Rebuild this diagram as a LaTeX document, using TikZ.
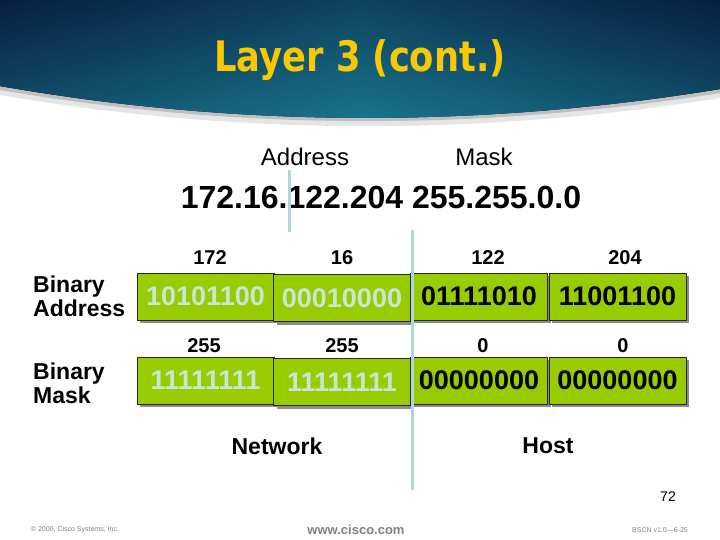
\documentclass[tikz,border=0pt]{standalone}
\usepackage{fontspec}
\setmainfont{Liberation Sans}
\newfontfamily\titlefont[FakeStretch=0.84]{DejaVu Sans}
\usetikzlibrary{shadows}
\definecolor{hdark}{HTML}{0B2A55}
\definecolor{hteal}{HTML}{22A0C0}
\definecolor{ttl}{HTML}{F8C800}
\definecolor{boxg}{HTML}{99CC00}
\definecolor{lite}{HTML}{C6E6D6}
\definecolor{vline}{HTML}{B4D4DC}
\definecolor{foot}{HTML}{808080}
\tikzset{
  binbox/.style={draw=black!85, line width=0.6pt, fill=boxg, minimum width=137pt,
    minimum height=47pt, inner sep=0pt, font=\fontsize{27}{30}\selectfont\bfseries,
    drop shadow={shadow xshift=3pt, shadow yshift=-3pt, fill=black!45, opacity=1}},
  netbox/.style={binbox, text=lite},
  hostbox/.style={binbox, text=black},
  toplabel/.style={font=\fontsize{24}{28}\selectfont},
  numlabel/.style={font=\fontsize{20}{24}\selectfont\bfseries},
  sidelabel/.style={font=\fontsize{23}{24}\selectfont\bfseries, align=left, anchor=west, inner sep=0pt},
  partlabel/.style={font=\fontsize{23}{26}\selectfont\bfseries},
  divider/.style={draw=vline, line width=3pt},
}
\begin{document}
\begin{tikzpicture}[x=1pt,y=-1pt]
\useasboundingbox (0,0) rectangle (720,540);
\fill[white] (0,0) rectangle (720,540);
% header shadow
\fill[black!10] (0,80) -- (720,80) -- (720,98) .. controls (480,136) and (240,136) .. (0,95) -- cycle;
\fill[black!25] (0,80) -- (720,80) -- (720,93) .. controls (480,131) and (240,131) .. (0,90) -- cycle;
% header
\fill[left color=hdark, right color=hdark, middle color=hteal]
  (0,0) -- (720,0) -- (720,89) .. controls (480,128) and (240,128) .. (0,86) -- cycle;
\fill[top color=hdark, bottom color=hteal, fill opacity=0.45]
  (0,0) -- (720,0) -- (720,89) .. controls (480,128) and (240,128) .. (0,86) -- cycle;
% title
\node[text=ttl, font=\titlefont\bfseries\fontsize{42}{46}\selectfont] (title) at (360,60) {Layer 3 (cont.)};
% top labels
\node[toplabel] (addr) at (305,157) {Address};
\node[toplabel] (mask) at (484,157) {Mask};
\node[font=\fontsize{32}{36}\selectfont\bfseries] (ip) at (381,197) {172.16.122.204 255.255.0.0};
% octet decimals
\node[numlabel] (a1) at (210,258) {172};
\node[numlabel] (a2) at (342,258) {16};
\node[numlabel] (a3) at (488,258) {122};
\node[numlabel] (a4) at (625,258) {204};
\node[numlabel] (m1) at (204,346) {255};
\node[numlabel] (m2) at (342,346) {255};
\node[numlabel] (m3) at (483,346) {0};
\node[numlabel] (m4) at (623,346) {0};
% side labels
\node[sidelabel] (binaddr) at (33,296) {Binary\\Address};
\node[sidelabel] (binmask) at (33,383) {Binary\\Mask};
% address boxes
\node[netbox] (ba1) at (205.5,296.5) {10101100};
\node[netbox] (ba2) at (342,298) {00010000};
\node[hostbox] (ba3) at (479,296.5) {01111010};
\node[hostbox] (ba4) at (617.5,296.5) {11001100};
% mask boxes
\node[netbox] (bm1) at (205.5,380.5) {11111111};
\node[netbox] (bm2) at (342,382) {11111111};
\node[hostbox] (bm3) at (479,380.5) {00000000};
\node[hostbox] (bm4) at (617.5,380.5) {00000000};
% dividers
\coordinate (d1top) at (289,170);
\coordinate (d1bot) at (289,232);
\coordinate (d2top) at (412,230);
\coordinate (d2bot) at (412,490);
\draw[divider] (d1top) -- (d1bot);
\draw[divider] (d2top) -- (d2bot);
% network / host
\node[partlabel] (net) at (277,446) {Network};
\node[partlabel] (host) at (548,446) {Host};
% page number and footer
\node[font=\fontsize{14}{16}\selectfont] (pnum) at (668,497) {72};
\node[text=foot, font=\fontsize{7}{8}\selectfont] (copy) at (75,530) {© 2000, Cisco Systems, Inc.};
\node[text=foot, font=\fontsize{13}{15}\selectfont\bfseries] (www) at (356,530) {www.cisco.com};
\node[text=foot, font=\fontsize{7}{8}\selectfont] (bscn) at (660,530) {BSCN v1.0—6-25};
\end{tikzpicture}
\end{document}
